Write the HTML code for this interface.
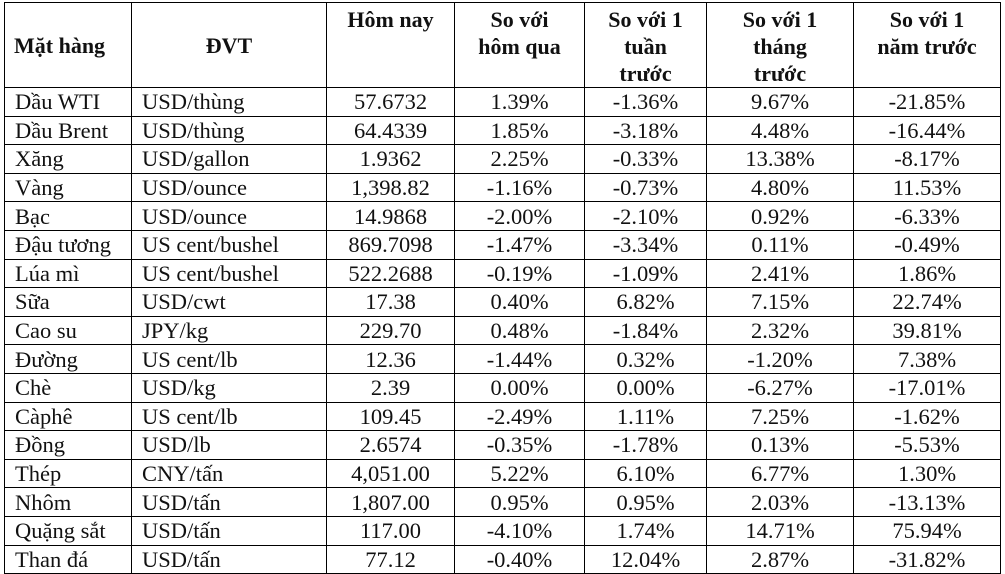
<!DOCTYPE html>
<html><head><meta charset="utf-8"><style>
body{margin:0;background:#fff;width:1005px;height:574px;overflow:hidden;font-family:"Liberation Serif",serif;color:#111}
table{position:absolute;left:4px;top:2px;border-collapse:collapse;table-layout:fixed}
td,th{border:1.5px solid #000;padding:0;font-size:22.5px;line-height:23px;white-space:nowrap}
th{font-weight:bold;height:79px;vertical-align:top;text-align:center;padding-top:3px;line-height:27px;font-size:22px}
td{height:27.6px;text-align:center}
td.l{text-align:left;padding-left:10px}
th.l{text-align:left;vertical-align:middle;padding-left:9px;padding-top:0}
th.m{vertical-align:middle;padding-top:0}
</style></head><body>
<table>
<colgroup><col style="width:127px"><col style="width:195px"><col style="width:128px"><col style="width:130px"><col style="width:122px"><col style="width:147px"><col style="width:147px"></colgroup>
<tr>
<th class="l">Mặt hàng</th>
<th class="m">ĐVT</th>
<th>Hôm nay</th>
<th>So với<br>hôm qua</th>
<th>So với 1<br>tuần<br>trước</th>
<th>So với 1<br>tháng<br>trước</th>
<th>So với 1<br>năm trước</th>
</tr>
<tbody id="tb"></tbody>
</table>
<script>
const rows=[
["Dầu WTI","USD/thùng","57.6732","1.39%","-1.36%","9.67%","-21.85%"],
["Dầu Brent","USD/thùng","64.4339","1.85%","-3.18%","4.48%","-16.44%"],
["Xăng","USD/gallon","1.9362","2.25%","-0.33%","13.38%","-8.17%"],
["Vàng","USD/ounce","1,398.82","-1.16%","-0.73%","4.80%","11.53%"],
["Bạc","USD/ounce","14.9868","-2.00%","-2.10%","0.92%","-6.33%"],
["Đậu tương","US cent/bushel","869.7098","-1.47%","-3.34%","0.11%","-0.49%"],
["Lúa mì","US cent/bushel","522.2688","-0.19%","-1.09%","2.41%","1.86%"],
["Sữa","USD/cwt","17.38","0.40%","6.82%","7.15%","22.74%"],
["Cao su","JPY/kg","229.70","0.48%","-1.84%","2.32%","39.81%"],
["Đường","US cent/lb","12.36","-1.44%","0.32%","-1.20%","7.38%"],
["Chè","USD/kg","2.39","0.00%","0.00%","-6.27%","-17.01%"],
["Càphê","US cent/lb","109.45","-2.49%","1.11%","7.25%","-1.62%"],
["Đồng","USD/lb","2.6574","-0.35%","-1.78%","0.13%","-5.53%"],
["Thép","CNY/tấn","4,051.00","5.22%","6.10%","6.77%","1.30%"],
["Nhôm","USD/tấn","1,807.00","0.95%","0.95%","2.03%","-13.13%"],
["Quặng sắt","USD/tấn","117.00","-4.10%","1.74%","14.71%","75.94%"],
["Than đá","USD/tấn","77.12","-0.40%","12.04%","2.87%","-31.82%"]];
const tb=document.getElementById('tb');
rows.forEach(r=>{
const tr=document.createElement('tr');


r.forEach((v,i)=>{
const td=document.createElement('td');
if(i<2)td.className='l';
td.textContent=v;


tr.appendChild(td);});
tb.appendChild(tr);});
</script>
</body></html>
